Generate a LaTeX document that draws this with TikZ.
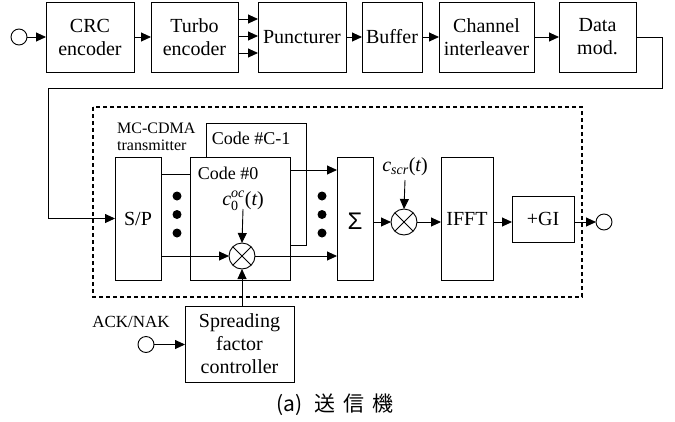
\documentclass[tikz,border=0pt]{standalone}
\usepackage{fontspec}
\usepackage{amsmath}
\setmainfont{Liberation Serif}
\newfontfamily\cjkfont{Noto Sans CJK JP}
\newfontfamily\sigmafont{Liberation Sans}
\usetikzlibrary{arrows.meta,calc}
\begin{document}
\begin{tikzpicture}[x=1pt,y=-1pt,
  box/.style={draw,line width=0.9pt,inner sep=0pt,outer sep=0pt,align=center,
    font=\fontsize{20}{23}\selectfont,fill=white},
  arr/.style={-{Triangle[length=10pt,width=9pt]},line width=0.9pt},
  ln/.style={line width=0.9pt},
  port/.style={draw,circle,line width=0.9pt,minimum size=16pt,inner sep=0pt,outer sep=0pt,fill=white},
  mult/.style={draw,circle,line width=0.9pt,minimum size=26pt,inner sep=0pt,outer sep=0pt},
  dot/.style={fill,circle,minimum size=9pt,inner sep=0pt},
  lbl/.style={inner sep=0pt,font=\fontsize{18}{23}\selectfont},
  small/.style={inner sep=0pt,font=\fontsize{16}{17}\selectfont,align=left}
]
\useasboundingbox (0,0) rectangle (675,421);

% dashed MC-CDMA frame
\draw[dash pattern=on 4pt off 3pt,line width=1.1pt] (93,107) rectangle (582,297);

% top row
\node[port] (in) at (19,37) {};
\node[box,minimum width=88pt,minimum height=70pt] (crc) at (90,37) {CRC\\encoder};
\node[box,minimum width=87pt,minimum height=70pt] (turbo) at (194.5,37) {Turbo\\encoder};
\node[box,minimum width=88pt,minimum height=70pt] (punct) at (302,37) {Puncturer};
\node[box,minimum width=60pt,minimum height=70pt] (buffer) at (392,37) {Buffer};
\node[box,minimum width=95pt,minimum height=70pt] (chan) at (486.5,37) {Channel\\interleaver};
\node[box,minimum width=77pt,minimum height=70pt] (dmod) at (597.5,37) {Data\\mod.};

\draw[arr] (in.east) -- (crc.west);
\draw[arr] (crc.east) -- (turbo.west);
\draw[arr] (turbo.east |- 0,19) -- (punct.west |- 0,19);
\draw[arr] (turbo.east |- 0,36) -- (punct.west |- 0,36);
\draw[arr] (turbo.east |- 0,53) -- (punct.west |- 0,53);
\draw[arr] (punct.east) -- (buffer.west);
\draw[arr] (buffer.east) -- (chan.west);
\draw[arr] (chan.east) -- (dmod.west);

% lower blocks
\node[box,minimum width=46pt,minimum height=123pt] (sp) at (138,218.5) {S/P};
\coordinate (fb1) at (662,37);
\coordinate (fb2) at (662,88);
\coordinate (fb3) at (48,88);
\coordinate (fb4) at (48,218.5);
\draw[ln] (dmod.east) -- (fb1) -- (fb2) -- (fb3) -- (fb4);
\draw[arr] (fb4) -- (sp.west);

\node[box,minimum width=100pt,minimum height=122pt] (codeC) at (256,184) {};
\node[box,minimum width=100pt,minimum height=123pt] (code0) at (240,218.5) {};
\node[lbl] (codeClbl) at (251,138) {Code \#C-1};
\node[lbl] (code0lbl) at (228,173) {Code \#0};
\node[small,anchor=west] (mclbl) at (117,137) {MC-CDMA\\transmitter};

\node[box,minimum width=36pt,minimum height=123pt] (sigma) at (355,218.5) {};
\node[inner sep=0pt,font=\sigmafont\fontsize{24}{24}\selectfont] (sigmalbl) at (355,221) {Σ};
\node[box,minimum width=52pt,minimum height=123pt] (ifft) at (467,218.5) {IFFT};
\node[box,minimum width=62pt,minimum height=46pt] (gi) at (543,219) {+GI};
\node[port] (out) at (604,222) {};

\node[mult] (m1) at (242,256) {};
\draw[ln] (m1.north east) -- (m1.south west) (m1.north west) -- (m1.south east);
\node[mult] (m2) at (404,222) {};
\draw[ln] (m2.north east) -- (m2.south west) (m2.north west) -- (m2.south east);

\node[inner sep=0pt,font=\fontsize{20}{23}\selectfont] (c0lbl) at (243,201) {$\textit{c}_{\text{0}}^{\textit{oc}}\text{(}\textit{t}\text{)}$};
\node[inner sep=0pt,font=\fontsize{20}{23}\selectfont] (cscrlbl) at (405,167) {$\textit{c}_{\textit{scr}}\text{(}\textit{t}\text{)}$};

% dots
\node[dot] (d1) at (177,196) {};
\node[dot] (d2) at (177,214.5) {};
\node[dot] (d3) at (177,233) {};
\node[dot] (d4) at (322,196) {};
\node[dot] (d5) at (322,214.5) {};
\node[dot] (d6) at (322,233) {};

% connections
\draw[ln] (sp.east |- 0,174) -- (code0.west |- 0,174);
\draw[arr] (code0.east |- 0,170) -- (sigma.west |- 0,170);
\draw[arr] (sp.east |- m1) -- (m1.west);
\draw[arr] (m1.east) -- (sigma.west |- m1);
\draw[arr] (c0lbl.south |- 0,209) -- (m1.north);
\draw[arr] (sigma.east |- m2) -- (m2.west);
\draw[arr] (cscrlbl.south |- 0,180) -- (m2.north);
\draw[arr] (m2.east) -- (ifft.west |- m2);
\draw[arr] (ifft.east |- m2) -- (gi.west |- m2);
\draw[arr] (gi.east |- out) -- (out.west);

% spreading factor controller
\node[box,minimum width=109pt,minimum height=76pt] (sfc) at (239.5,344) {Spreading\\factor\\controller};
\draw[arr] (m1.south |- sfc.north) -- (m1.south);
\node[port] (ack) at (146,344.5) {};
\node[inner sep=0pt,font=\fontsize{17}{18}\selectfont] (acklbl) at (131,322) {ACK/NAK};
\draw[arr] (ack.east) -- (sfc.west |- ack);

% caption
\node[inner sep=0pt,font=\cjkfont\fontsize{21}{22}\selectfont] (cap) at (335,405) {(a)\hspace{12pt}送\hspace{8pt}信\hspace{8pt}機};
\end{tikzpicture}
\end{document}
